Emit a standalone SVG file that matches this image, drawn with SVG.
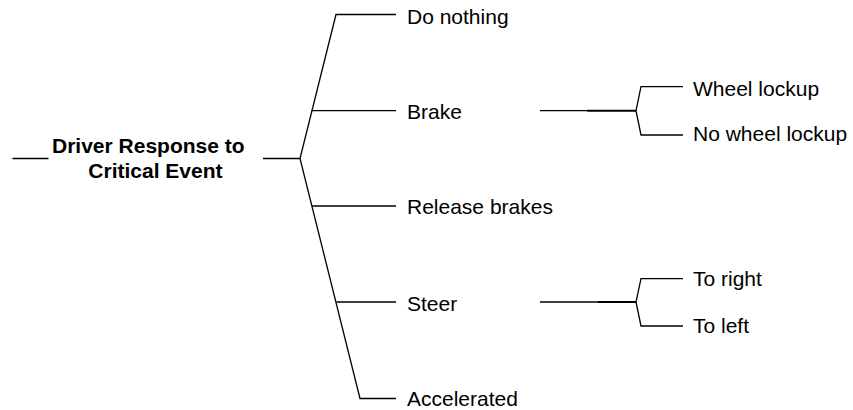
<svg xmlns="http://www.w3.org/2000/svg" width="853" height="410" viewBox="0 0 853 410">
  <style>
    .ln { fill: none; stroke: #000; stroke-width: 1.3; stroke-linejoin: miter; }
    .lbl { font-family: "Liberation Sans", Arial, sans-serif; font-size: 21px; fill: #000; }
    .root { font-family: "Liberation Sans", Arial, sans-serif; font-size: 21px; font-weight: bold; fill: #000; }
  </style>
  <rect width="853" height="410" fill="#fff"/>

  <!-- connectors -->
  <g id="connectors">
    <!-- lead-in and lead-out of the root label -->
    <line class="ln" x1="12.5" y1="158.5" x2="48.5" y2="158.5"/>
    <line class="ln" x1="263" y1="158.5" x2="300" y2="158.5"/>
    <!-- main fan -->
    <polyline class="ln" points="396,14.5 336,14.5 300,158.5 360,398.5 396,398.5"/>
    <line class="ln" x1="311.7" y1="110.7" x2="396" y2="110.7"/>
    <line class="ln" x1="312" y1="206" x2="396" y2="206"/>
    <line class="ln" x1="336.4" y1="302" x2="396" y2="302"/>
    <!-- Brake sub-fan -->
    <line class="ln" x1="540" y1="110.7" x2="587" y2="110.7"/>
    <line class="ln" x1="587" y1="110.7" x2="636" y2="110.7" style="stroke-width:2"/>
    <polyline class="ln" points="683,86.7 641,86.7 636,110.7 641,135 683,135"/>
    <!-- Steer sub-fan -->
    <line class="ln" x1="540" y1="302" x2="598" y2="302"/>
    <line class="ln" x1="598" y1="302" x2="636" y2="302" style="stroke-width:1.8"/>
    <polyline class="ln" points="683,278.7 641,278.7 636,302 641,326 683,326"/>
  </g>

  <g id="root">
    <text class="root" x="52" y="153.3">Driver Response to</text>
    <text class="root" x="88.3" y="178.3">Critical Event</text>
  </g>

  <g id="do-nothing"><text class="lbl" x="407" y="24">Do nothing</text></g>
  <g id="brake"><text class="lbl" x="407" y="119.3">Brake</text></g>
  <g id="release-brakes"><text class="lbl" x="407" y="214.3">Release brakes</text></g>
  <g id="steer"><text class="lbl" x="407" y="310.5">Steer</text></g>
  <g id="accelerated"><text class="lbl" x="407" y="406.3">Accelerated</text></g>

  <g id="wheel-lockup"><text class="lbl" x="693" y="96">Wheel lockup</text></g>
  <g id="no-wheel-lockup"><text class="lbl" x="693" y="141">No wheel lockup</text></g>
  <g id="to-right"><text class="lbl" x="693" y="286">To right</text></g>
  <g id="to-left"><text class="lbl" x="693" y="333.3">To left</text></g>
</svg>
